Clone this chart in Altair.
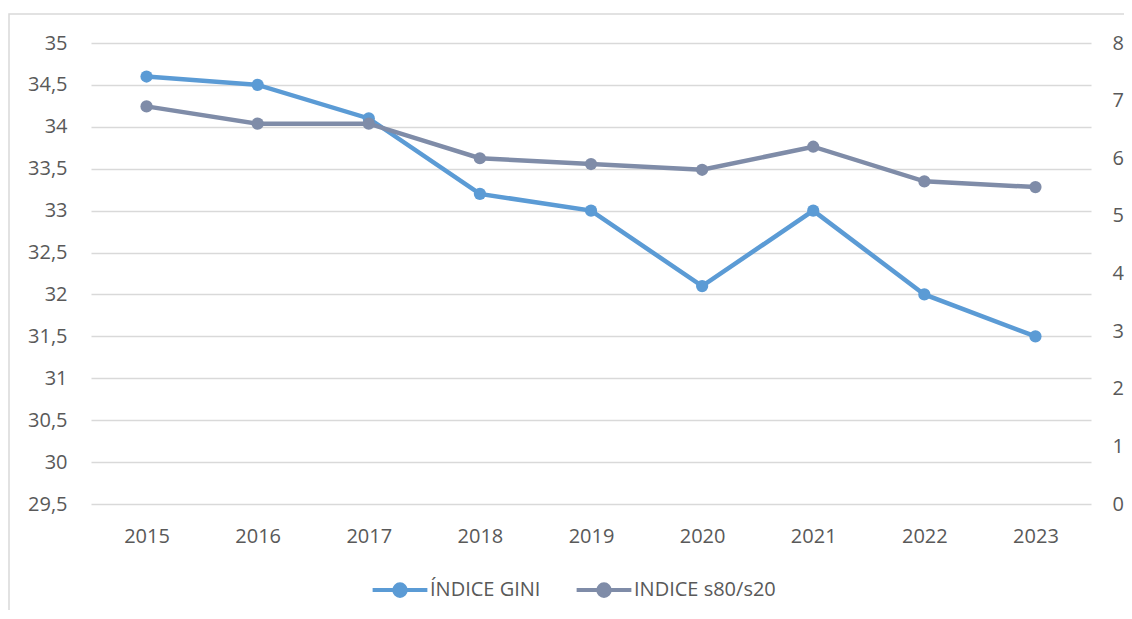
import altair as alt
import pandas as pd

years = ["2015", "2016", "2017", "2018", "2019", "2020", "2021", "2022", "2023"]
gini = [34.6, 34.5, 34.1, 33.2, 33.0, 32.1, 33.0, 32.0, 31.5]
s80s20 = [6.9, 6.6, 6.6, 6.0, 5.9, 5.8, 6.2, 5.6, 5.5]
series_names = ["ÍNDICE GINI", "INDICE s80/s20"]
colors = ["#5b9bd5", "#7f8ca8"]
left_ticks = [29.5, 30, 30.5, 31, 31.5, 32, 32.5, 33, 33.5, 34, 34.5, 35]
right_ticks = [0, 1, 2, 3, 4, 5, 6, 7, 8]

df_g = pd.DataFrame({"year": years, "value": gini, "series": series_names[0]})
df_s = pd.DataFrame({"year": years, "value": s80s20, "series": series_names[1]})

FONT = "Open Sans"
LBL = "#595959"
FS = 20

x_enc = alt.X("year:N", sort=years, title=None,
              scale=alt.Scale(type="point", padding=0.5),
              axis=alt.Axis(domain=False, ticks=False, tickSize=0, labelPadding=22,
                            labelAngle=0, grid=False))
color_enc = alt.Color("series:N", title=None,
                      scale=alt.Scale(domain=series_names, range=colors),
                      legend=alt.Legend(orient="none", direction="horizontal",
                                        legendX=293, legendY=531,
                                        symbolType="M-2,0L2,0M-0.42,0A0.42,0.42 0 1,0 0.42,0A0.42,0.42 0 1,0 -0.42,0Z",
                                        symbolSize=750, symbolStrokeWidth=4,
                                        labelFontSize=FS, labelColor=LBL, labelFont=FONT,
                                        labelOffset=14, columnPadding=27))

y_left = alt.Y("value:Q", title=None,
               scale=alt.Scale(domain=[29.5, 35], nice=False, zero=False),
               axis=alt.Axis(values=left_ticks, orient="left", domain=False, ticks=False,
                             tickSize=0, labelPadding=24, grid=True,
                             labelExpr="replace(toString(datum.value), '.', ',')"))
y_right = alt.Y("value:Q", title=None,
                scale=alt.Scale(domain=[0, 8], nice=False),
                axis=alt.Axis(values=right_ticks, orient="right", domain=False, ticks=False,
                              tickSize=0, labelPadding=21, grid=False))

g_line = alt.Chart(df_g).mark_line(strokeWidth=4.5).encode(x=x_enc, y=y_left, color=color_enc)
g_pt = alt.Chart(df_g).mark_point(filled=True, size=150, opacity=1).encode(x=x_enc, y=y_left, color=color_enc)
s_line = alt.Chart(df_s).mark_line(strokeWidth=4.5).encode(x=x_enc, y=y_right, color=color_enc)
s_pt = alt.Chart(df_s).mark_point(filled=True, size=150, opacity=1).encode(x=x_enc, y=y_right, color=color_enc)

frame = alt.Chart(pd.DataFrame({"a": [0]})).mark_rect(fill=None, stroke="#d9d9d9", strokeWidth=1.5).encode(
    x=alt.value(-82), x2=alt.value(1050), y=alt.value(-29), y2=alt.value(600))

gl = alt.layer(g_line, g_pt)
sl = alt.layer(s_line, s_pt)

chart = alt.layer(frame, gl, sl).resolve_scale(y="independent").properties(
    width=1000, height=461,
    autosize=alt.AutoSizeParams(type="none"),
    padding={"left": 83, "top": 35, "right": 33, "bottom": 106},
    background="white",
).configure_view(stroke=None).configure_axis(
    labelFont=FONT, labelFontSize=FS, labelColor=LBL,
    gridColor="#d9d9d9", gridWidth=1.3,
)

chart.save("out.html", embed_options={"renderer": "svg", "actions": False})
